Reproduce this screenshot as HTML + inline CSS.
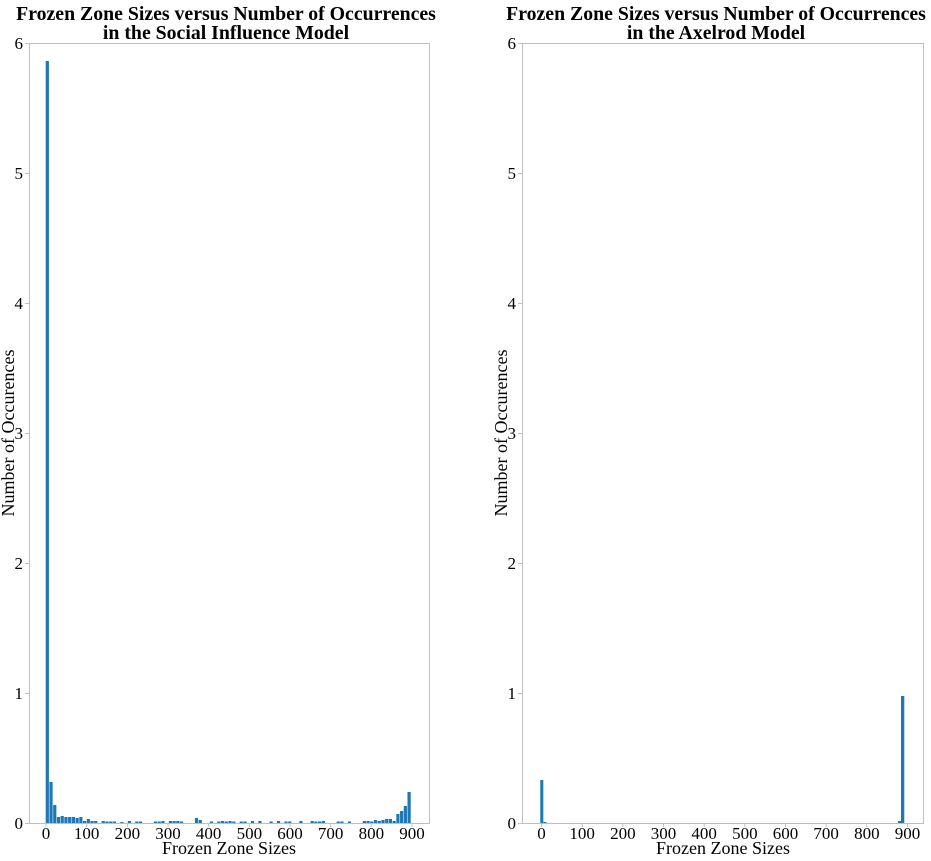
<!DOCTYPE html>
<html><head><meta charset="utf-8"><style>
html,body{margin:0;padding:0;background:#fff;}
svg{display:block;font-family:"Liberation Serif","DejaVu Serif",serif;}
</style></head><body>
<svg id="s" width="931" height="861" xmlns="http://www.w3.org/2000/svg">
<text x="226" y="20" font-size="19.8" font-weight="bold" text-anchor="middle">Frozen Zone Sizes versus Number of Occurrences</text>
<text x="226" y="39" font-size="19.8" font-weight="bold" text-anchor="middle">in the Social Influence Model</text>
<text x="716" y="20" font-size="19.8" font-weight="bold" text-anchor="middle">Frozen Zone Sizes versus Number of Occurrences</text>
<text x="716" y="39" font-size="19.8" font-weight="bold" text-anchor="middle">in the Axelrod Model</text>
<text transform="translate(14,433) rotate(-90)" font-size="18" text-anchor="middle">Number of Occurences</text>
<text transform="translate(507,433) rotate(-90)" font-size="18" text-anchor="middle">Number of Occurences</text>
<text x="229" y="854" font-size="18" text-anchor="middle">Frozen Zone Sizes</text>
<text x="723" y="854" font-size="18" text-anchor="middle">Frozen Zone Sizes</text>
<g id="g"></g>
</svg>
<script>
var g=document.getElementById('g'),h='';
function ax(L,R,x0){
 h+='<rect x="'+L+'.5" y="43.5" width="'+(R-L)+'" height="780" fill="none" stroke="#bfbfbf" stroke-width="1"/>';
 for(var i=0;i<=6;i++){var y=823-130*i;h+='<line x1="'+(L-4)+'" x2="'+L+'" y1="'+(y+.5)+'" y2="'+(y+.5)+'" stroke="#bfbfbf"/><text x="'+(L-6)+'" y="'+(y+6)+'" font-size="17" text-anchor="end">'+i+'</text>';}
 for(var v=0;v<=900;v+=100){var x=x0+v*366/900;h+='<line x1="'+x+'" x2="'+x+'" y1="823" y2="827" stroke="#bfbfbf"/><text x="'+x+'" y="839" font-size="17" text-anchor="middle">'+v+'</text>';}
}
ax(29,429,46);ax(522,923,541.5);
var c='#1f77b4';
function bar(x,hp,w){if(hp<=0)return;h+='<rect x="'+x+'" y="'+(823-hp)+'" width="'+(w||3)+'" height="'+hp+'" fill="'+c+'"/>';}
var H=[762,41,18,6,7,6,6,6,5,6,2,4,2,2,0,2,1.5,1.5,1.5,0,1,0,2,0,1.5,1.5,0,0,0,1.5,1.5,2,0,2,2,2,1.5,0,0,0,5,3,0,0,1.5,0,1.5,2,1.5,2,1.5,0,1.5,1.5,0,2,0,2,0,0,1.5,0,2,0,1.5,1.5,0,0,2,0,0,2,1.5,1.5,2,0,0,0,1.5,1.5,0,1.5,0,0,0,2,2,1.5,3,2,3,4,4,2,9,12,17,31];
var sp=(407.5-45.7)/(H.length-1);
for(var i=0;i<H.length;i++)bar(45.7+i*sp,H[i],3.2);
bar(540.3,43,3);bar(543.5,1,3);bar(898,2,3);bar(901,127,3.3);
g.innerHTML=h;
</script>
</body></html>
